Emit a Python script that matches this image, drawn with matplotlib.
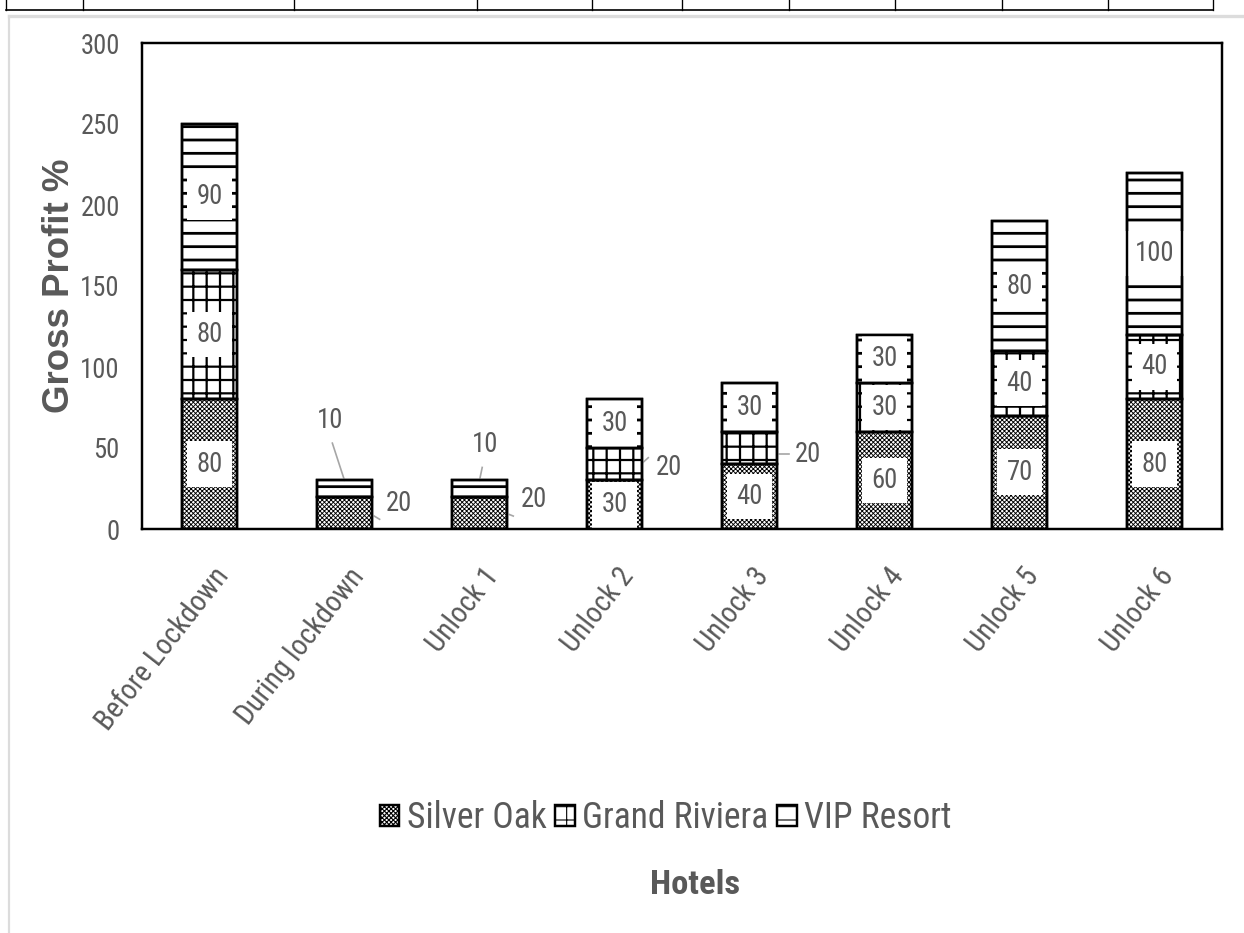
import numpy as np
import matplotlib
matplotlib.use("Agg")
import matplotlib.pyplot as plt
import matplotlib.transforms as mtransforms
from matplotlib.lines import Line2D

# ─────────────────────────────────────────────────────────────────────────────
# Data
# ─────────────────────────────────────────────────────────────────────────────
stages = ["Before Lockdown", "During lockdown", "Unlock 1", "Unlock 2",
          "Unlock 3", "Unlock 4", "Unlock 5", "Unlock 6"]
silver_oak = [80, 20, 20, 30, 40, 60, 70, 80]
grand_riviera = [80, 0, 0, 20, 20, 30, 40, 40]
vip_resort = [90, 10, 10, 30, 30, 30, 80, 100]
yticks = [0, 50, 100, 150, 200, 250, 300]

GREY = "#595959"
plt.rcParams["font.family"] = ["Roboto Condensed", "Liberation Sans", "DejaVu Sans"]

DPI = 80
fig = plt.figure(figsize=(1244 / DPI, 933 / DPI), dpi=DPI)
ax = fig.add_axes([142 / 1244, 1 - 529 / 933, 1080 / 1244, 486 / 933])

x = np.arange(len(stages))
width = 0.41
bottom2 = np.array(silver_oak)
bottom3 = bottom2 + np.array(grand_riviera)

with plt.rc_context({"hatch.linewidth": 0.8}):
    b1 = ax.bar(x, silver_oak, width, color="white", edgecolor="black",
                linewidth=2.2, hatch="xxxxxx", label="Silver Oak")
with plt.rc_context({"hatch.linewidth": 2.0}):
    b2 = ax.bar(x, grand_riviera, width, bottom=bottom2, color="white",
                edgecolor="black", linewidth=2.2, hatch="+", label="Grand Riviera")
with plt.rc_context({"hatch.linewidth": 2.5}):
    b3 = ax.bar(x, vip_resort, width, bottom=bottom3, color="white",
                edgecolor="black", linewidth=2.2, hatch="-", label="VIP Resort")

# value labels inside the segments (white boxes)
box = dict(boxstyle="square,pad=0.35", fc="white", ec="none")
for i in range(len(stages)):
    segs = [(silver_oak[i], 0), (grand_riviera[i], bottom2[i]), (vip_resort[i], bottom3[i])]
    for val, base in segs:
        if val >= 30:
            ax.text(x[i], base + val / 2, str(val), ha="center", va="center",
                    fontsize=24, color=GREY, bbox=box, zorder=5)

# redraw the segment outlines above the label boxes
for vals, base in [(silver_oak, 0), (grand_riviera, bottom2), (vip_resort, bottom3)]:
    ax.bar(x, vals, width, bottom=base, fill=False, edgecolor="black",
           linewidth=2.2, zorder=6)

# small segments get outside labels with leader lines
outside = [
    # (label, text x, text y, line x0, line y0, line x1, line y1)
    ("10", 0.89, 67, 0.91, 53, 1.0, 30),
    ("20", 1.40, 16, 1.22, 8, 1.26, 6),
    ("10", 2.04, 52, 2.02, 38, 2.0, 30),
    ("20", 2.40, 18, 2.22, 9, 2.25, 8),
    ("20", 3.40, 38, 3.21, 41, 3.25, 44),
    ("20", 4.43, 46, 4.21, 46, 4.29, 46),
]
for lab, tx, ty, lx0, ly0, lx1, ly1 in outside:
    ax.text(tx, ty, lab, ha="center", va="center", fontsize=24, color=GREY, zorder=5)
    ax.plot([lx0, lx1], [ly0, ly1], color="#a6a6a6", linewidth=1.5, zorder=4)

ax.set_xlim(-0.5, len(stages) - 0.5)
ax.set_ylim(0, 300)
ax.set_yticks(yticks)
ax.set_xticks(x)
ax.tick_params(axis="y", labelsize=24, labelcolor=GREY, length=0, pad=20)
ax.tick_params(axis="x", length=0, pad=38)
ax.set_xticklabels(stages, rotation=52, ha="right", va="center",
                   rotation_mode="anchor", fontsize=26, color=GREY)
shift = mtransforms.ScaledTranslation(14 / DPI, 0, fig.dpi_scale_trans)
for lab in ax.get_xticklabels():
    lab.set_transform(lab.get_transform() + shift)
for s in ax.spines.values():
    s.set_linewidth(2.2)
    s.set_color("black")

fig.text(0.048, 1 - 286 / 933, "Gross Profit %", rotation=90, ha="center",
         va="center", fontsize=33, fontweight="bold", color=GREY,
         family=["Liberation Sans", "DejaVu Sans"])

leg = fig.legend(handles=[b1, b2, b3], loc="center", bbox_to_anchor=(0.535, 1 - 818 / 933),
                 ncol=3, frameon=False, fontsize=32, handlelength=0.55, handleheight=0.55,
                 handletextpad=0.2, columnspacing=0.25)
for t in leg.get_texts():
    t.set_color(GREY)

fig.text(0.559, 1 - 885 / 933, "Hotels", ha="center", va="center", fontsize=31,
         fontweight="bold", color=GREY)

# page frame remnants: table row at top and light grey border
cols = [6, 83, 294, 477, 592, 682, 789, 895, 1002, 1108, 1213]
fig.add_artist(Line2D([6 / 1244, 1213 / 1244], [1 - 10 / 933] * 2, color="black",
                      linewidth=1.5, transform=fig.transFigure))
for c in cols:
    fig.add_artist(Line2D([c / 1244] * 2, [1 - 10 / 933, 1], color="black",
                          linewidth=1.2, transform=fig.transFigure))
fig.add_artist(Line2D([9 / 1244, 1], [1 - 16 / 933] * 2, color="#dcdcdc",
                      linewidth=3, transform=fig.transFigure))
fig.add_artist(Line2D([9 / 1244] * 2, [0, 1 - 16 / 933], color="#dcdcdc",
                      linewidth=2, transform=fig.transFigure))

fig.savefig("out.png", dpi=DPI, facecolor="white")
